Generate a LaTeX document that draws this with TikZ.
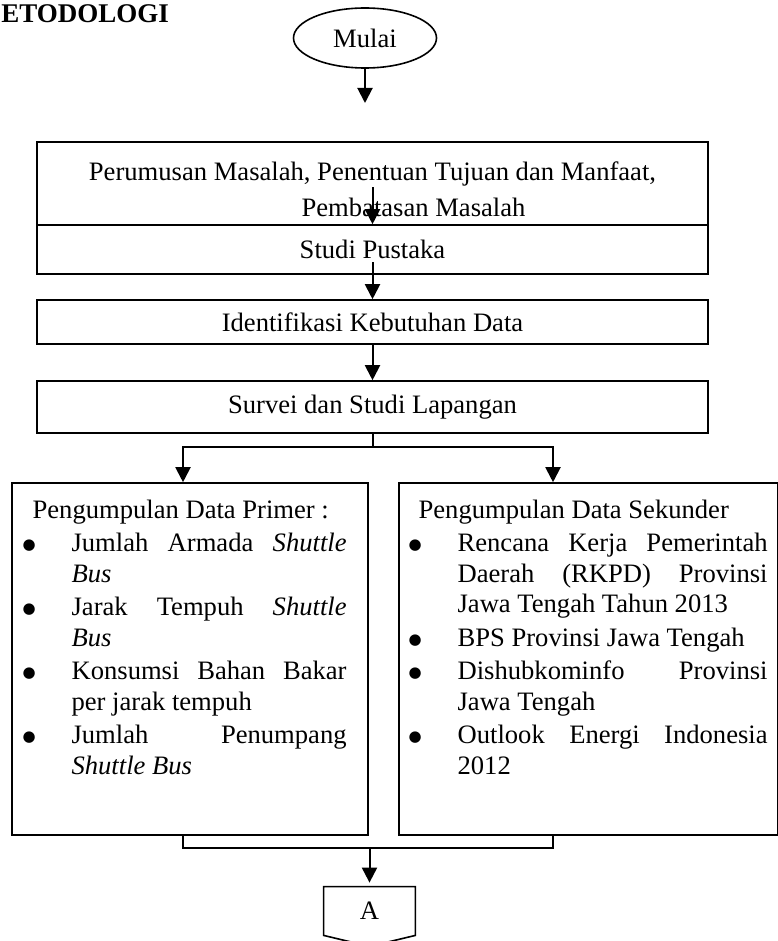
\documentclass[tikz,border=0pt]{standalone}
\usepackage{fontspec}
\setmainfont{Liberation Serif}
\newfontfamily\simbol{DejaVu Sans}
\usepackage{tikz}
\usetikzlibrary{shapes,arrows,arrows.meta,positioning,calc,shapes.geometric}

\newcommand{\butir}{\par\hangindent=24.5pt\hangafter=1\noindent
  \makebox[24.5pt][l]{\raisebox{0.9pt}{\simbol\fontsize{7.5}{7.5}\selectfont ●}}}

\begin{document}
\begin{tikzpicture}[x=0.5pt,y=-0.5pt,
    font=\fontsize{13.3}{15.2}\selectfont,
    kotak/.style={draw, line width=0.8pt, minimum width=335.5pt, inner sep=0pt},
    wadah/.style={draw, line width=0.8pt, minimum height=176pt, inner sep=0pt},
    isi/.style={anchor=north west, inner sep=0pt, text width=#1, align=justify,
                execute at begin node={\setlength{\parskip}{1.6pt}}},
    panah/.style={line width=1pt, -{Triangle[length=7.5pt,width=7.5pt]}},
    garis/.style={line width=1pt}]
  \useasboundingbox (0,0) rectangle (777,941);

  % Judul
  \node[anchor=base west, inner sep=0pt, font=\fontsize{13.5}{15}\selectfont\bfseries] (judul) at (1,23) {ETODOLOGI};

  % Mulai
  \node[ellipse, draw, line width=0.8pt, minimum width=71.5pt, minimum height=30pt, inner sep=0pt] (mulai) at (365,38) {Mulai};
  \coordinate (ujung) at (365,103);
  \draw[panah] (mulai.south) -- (ujung);

  % Tahapan awal
  \node[kotak, minimum height=41.5pt, align=center] (rumusan) at (372.5,183.5)
    {\rule{0pt}{15pt}Perumusan Masalah, Penentuan Tujuan dan Manfaat,\\[3pt]\hspace*{41pt}Pembatasan Masalah};
  \node[kotak, minimum height=24.5pt] (pustaka) at (372.5,249.5) {Studi Pustaka};
  \node[kotak, minimum height=22pt] (identifikasi) at (372.5,322) {Identifikasi Kebutuhan Data};
  \node[kotak, minimum height=26pt] (survei) at (372.5,407) {Survei dan Studi Lapangan};

  \draw[panah] ($(pustaka.north)+(0,-37)$) -- (pustaka.north);
  \draw[panah] ($(identifikasi.north)+(0,-37)$) -- (identifikasi.north);
  \draw[panah] (identifikasi.south) -- (survei.north);

  % Pengumpulan data
  \node[wadah, minimum width=178pt] (primer) at (190,659) {};
  \node[wadah, minimum width=189.5pt] (sekunder) at (588.5,659) {};

  \coordinate (kiri) at (183,447);
  \coordinate (kanan) at (553,447);
  \draw[panah] (survei.south) |- (kiri) -- (kiri |- primer.north);
  \draw[panah] (survei.south) |- (kanan) -- (kanan |- sekunder.north);

  \node[isi=162pt] (isiprimer) at ($(primer.north west)+(11,17)$)
    {\hspace*{5pt}Pengumpulan Data Primer :
     \butir Jumlah Armada \textit{Shuttle}\linebreak\textit{Bus}
     \butir Jarak Tempuh \textit{Shuttle}\linebreak\textit{Bus}
     \butir Konsumsi Bahan Bakar\linebreak per jarak tempuh
     \butir Jumlah Penumpang\linebreak\textit{Shuttle Bus}\par};
  \node[isi=179.5pt] (isisekunder) at ($(sekunder.north west)+(10,17)$)
    {\hspace*{5pt}Pengumpulan Data Sekunder
     \butir Rencana Kerja Pemerintah\linebreak Daerah (RKPD) Provinsi\linebreak Jawa Tengah Tahun 2013
     \butir BPS Provinsi Jawa Tengah
     \butir Dishubkominfo Provinsi\linebreak Jawa Tengah
     \butir Outlook Energi Indonesia\linebreak 2012\par};

  % Penghubung A
  \coordinate (gabung) at (369.5,848);
  \draw[garis] (kiri |- primer.south) |- (gabung) -| (kanan |- sekunder.south);
  \node[inner sep=0pt, minimum width=45.5pt, minimum height=24pt] (konektor) at (369.5,911) {A};
  \draw[line width=0.8pt] (konektor.south west) -- (konektor.north west) -- (konektor.north east)
    -- (konektor.south east) -- ($(konektor.south)+(0,11)$) -- cycle;
  \draw[panah, shorten >=2pt] (gabung) -- (konektor.north);
\end{tikzpicture}
\end{document}
